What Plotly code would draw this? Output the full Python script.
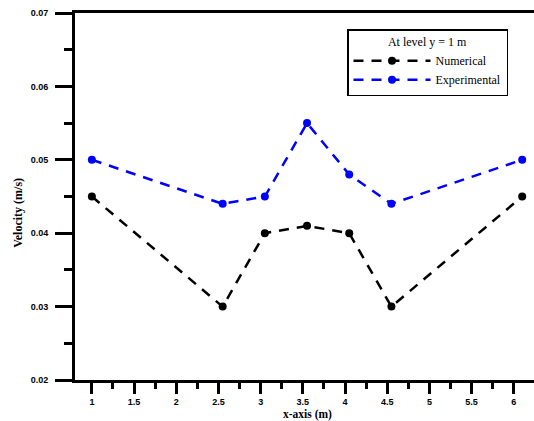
import plotly.graph_objects as go

x_num = [1, 2.55, 3.05, 3.55, 4.05, 4.55, 6.1]
y_num = [0.045, 0.030, 0.040, 0.041, 0.040, 0.030, 0.045]
x_exp = [1, 2.55, 3.05, 3.55, 4.05, 4.55, 6.1]
y_exp = [0.050, 0.044, 0.045, 0.055, 0.048, 0.044, 0.050]

x_ticks = [1, 1.5, 2, 2.5, 3, 3.5, 4, 4.5, 5, 5.5, 6]
x_ticktext = ["1", "1.5", "2", "2.5", "3", "3.5", "4", "4.5", "5", "5.5", "6"]
y_ticks = [0.02, 0.03, 0.04, 0.05, 0.06, 0.07]
y_ticktext = ["0.02", "0.03", "0.04", "0.05", "0.06", "0.07"]

fig = go.Figure()
fig.add_trace(go.Scatter(
    x=x_num, y=y_num, name="Numerical", mode="lines+markers",
    line=dict(color="black", width=2.5, dash="10px,8px"),
    marker=dict(color="black", size=8, symbol="circle"),
))
fig.add_trace(go.Scatter(
    x=x_exp, y=y_exp, name="Experimental", mode="lines+markers",
    line=dict(color="#0000ff", width=2.5, dash="10px,8px"),
    marker=dict(color="#0000ff", size=8, symbol="circle"),
))

tickfont = dict(family="Liberation Sans", size=9, color="black", weight="bold")

fig.update_layout(
    width=534, height=421,
    margin=dict(l=75, r=0, t=13, b=41),
    plot_bgcolor="white", paper_bgcolor="white",
    showlegend=True,
    legend=dict(
        x=0.5926, y=0.956, xanchor="left", yanchor="top",
        bgcolor="white", bordercolor="black", borderwidth=1.5,
        font=dict(family="Liberation Serif", size=12, color="black"),
        title=dict(text="At level y = 1 m", side="top center",
                   font=dict(family="Liberation Serif", size=12, color="black")),
        itemwidth=77, tracegroupgap=0,
    ),
    xaxis=dict(
        range=[0.8, 6.24], showgrid=False, zeroline=False,
        showline=True, linecolor="black", linewidth=3, mirror=True,
        tickmode="array", tickvals=x_ticks, ticktext=x_ticktext,
        ticks="outside", ticklen=11, tickwidth=3, tickcolor="black",
        tickfont=tickfont, ticklabelstandoff=0,
        minor=dict(dtick=0.25, tick0=0.75, ticks="outside", ticklen=6, tickwidth=3, tickcolor="black"),
    ),
    yaxis=dict(
        range=[0.02, 0.07], showgrid=False, zeroline=False,
        showline=True, linecolor="black", linewidth=3, mirror=False,
        tickmode="array", tickvals=y_ticks, ticktext=y_ticktext,
        ticks="outside", ticklen=17, tickwidth=3, tickcolor="black",
        tickfont=tickfont, ticklabelstandoff=5,
        minor=dict(dtick=0.005, tick0=0.02, ticks="outside", ticklen=8, tickwidth=3, tickcolor="black"),
    ),
    annotations=[
        dict(text="x-axis (m)", xref="paper", yref="paper", x=0.5066, y=-0.0940,
             xanchor="center", yanchor="middle", showarrow=False, borderpad=0,
             font=dict(family="Liberation Serif", size=11.5, color="black", weight="bold")),
        dict(text="Velocity (m/s)", xref="paper", yref="paper", x=-0.126, y=0.456,
             xanchor="center", yanchor="middle", showarrow=False, textangle=-90,
             font=dict(family="Liberation Serif", size=12, color="black", weight="bold")),
    ],
)

fig.write_html("out.html", config={"displayModeBar": False},
               post_script="document.body.style.margin='0';document.body.style.overflow='hidden';")
